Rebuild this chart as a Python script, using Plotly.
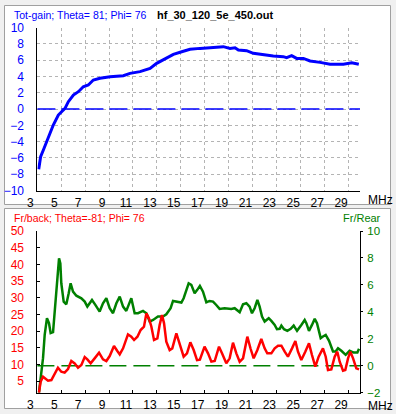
import plotly.graph_objects as go

# ---------------- data ----------------
gain_freq = [3.11, 3.27, 3.5, 3.92, 4.33, 4.75, 5.31, 5.59, 6.01, 6.43, 6.84, 7.26, 7.68, 8.24,
             9.08, 10.19, 10.75, 11.59, 12.43, 12.98, 13.82, 14.38, 15.08, 15.77, 16.61, 17.73,
             18.56, 19.12, 19.54, 19.82, 20.51, 21.07, 21.91, 22.74, 23.58, 23.86, 24.28, 24.7,
             25.26, 25.82, 26.66, 27.49, 28.61, 29.31, 29.9]
gain_db = [-7.4, -5.85, -5.03, -3.39, -1.96, -0.73, 0.09, 0.91, 1.73, 2.14, 2.75, 2.96, 3.57, 3.78,
           3.98, 4.1, 4.39, 4.6, 5.0, 5.62, 6.23, 6.73, 7.05, 7.34, 7.46, 7.59,
           7.67, 7.46, 7.54, 7.26, 7.18, 6.85, 6.64, 6.52, 6.44, 6.32, 6.56, 6.23,
           6.23, 5.91, 5.74, 5.5, 5.5, 5.7, 5.5]

fb_freq = [3.13, 3.27, 3.47, 3.66, 3.89, 4.17, 4.45, 4.72, 5.0, 5.28, 5.56, 5.84, 6.12, 6.4, 6.68,
           6.96, 7.18, 7.46, 7.79, 8.16, 8.49, 8.77, 9.05, 9.41, 9.69, 9.89, 10.17, 10.58, 10.86,
           11.09, 11.37, 11.64, 11.92, 12.12, 12.34, 12.54, 12.76, 13.04, 13.23, 13.43, 13.6,
           13.79, 14.07, 14.29, 14.63, 14.91, 15.24, 15.52, 15.8, 16.08, 16.36, 16.6, 16.99,
           17.28, 17.56, 17.84, 18.2, 18.45, 18.81, 19.09, 19.37, 19.65, 19.93, 20.21, 20.57,
           20.85, 21.1, 21.41, 21.74, 22.02, 22.24, 22.58, 22.86, 23.14, 23.42, 23.7, 23.97,
           24.31, 24.59, 24.81, 25.09, 25.42, 25.73, 25.98, 26.26, 26.54, 26.9, 27.13, 27.32,
           27.6, 27.88, 28.1, 28.3, 28.58, 28.77, 29.0, 29.19, 29.42, 29.69, 29.92]
fb_db = [1.5, 4.8, 6.3, 5.8, 5.1, 5.3, 7.3, 9.0, 7.8, 7.5, 8.6, 11.0, 10.3, 9.0, 9.8,
         12.2, 11.5, 10.3, 11.8, 13.5, 11.5, 11.0, 12.5, 15.5, 14.0, 13.0, 14.8, 19.0, 18.3,
         17.3, 18.3, 20.3, 21.3, 25.3, 23.8, 21.3, 17.3, 17.8, 21.8, 24.8, 22.3,
         16.8, 14.3, 14.8, 19.3, 16.3, 12.3, 13.3, 16.6, 14.3, 11.3, 11.4, 15.3,
         13.3, 10.8, 11.0, 15.3, 13.3, 10.3, 11.8, 16.5, 13.3, 10.8, 11.8, 18.3,
         14.6, 11.8, 14.3, 17.6, 14.8, 13.3, 13.3, 14.8, 15.6, 15.6, 13.8, 12.3,
         14.8, 17.0, 13.8, 11.3, 13.8, 16.3, 12.8, 9.3, 12.3, 14.8, 12.3, 8.3,
         8.5, 12.3, 13.8, 10.8, 8.1, 8.3, 11.8, 13.8, 11.8, 8.8, 8.5]

fr_freq = [3.13, 3.27, 3.47, 3.61, 3.8, 3.97, 4.11, 4.31, 4.45, 4.58, 4.72, 4.81, 4.92, 5.0, 5.2,
           5.42, 5.62, 5.78, 5.98, 6.26, 6.68, 6.96, 7.18, 7.38, 7.57, 7.85, 8.21, 8.49, 8.77,
           9.05, 9.33, 9.61, 9.89, 10.17, 10.44, 10.64, 10.86, 11.14, 11.42, 11.84, 12.12,
           12.4, 12.68, 13.09, 13.51, 13.79, 14.15, 14.35, 14.63, 15.05, 15.24, 15.47, 15.66,
           15.88, 16.16, 16.38, 16.6, 16.86, 17.14, 17.42, 17.7, 17.97, 18.25, 18.67, 19.23,
           19.51, 19.93, 20.21, 20.49, 20.76, 20.96, 21.18, 21.41, 21.6, 21.8, 22.02, 22.36,
           22.58, 22.86, 23.05, 23.28, 23.42, 23.64, 23.92, 24.2, 24.45, 24.73, 25.09, 25.37,
           25.51, 25.73, 25.98, 26.21, 26.4, 26.71, 26.9, 27.13, 27.41, 27.74, 27.96, 28.16,
           28.44, 28.8, 29.13, 29.47, 29.78, 29.92]
fr_db = [-2.0, -0.9, 0.56, 2.29, 3.53, 3.16, 2.42, 2.49, 4.02, 6.0, 7.23, 7.97, 7.6, 6.12, 4.76,
         4.56, 5.38, 6.12, 5.5, 5.2, 5.0, 4.76, 4.39, 4.64, 4.88, 4.52, 4.02, 4.64, 5.01,
         4.27, 3.9, 4.64, 5.13, 4.39, 4.07, 4.52, 5.01, 3.9, 3.9, 4.07, 3.9,
         3.28, 3.4, 3.65, 3.65, 3.82, 4.27, 4.81, 4.76, 4.69, 5.01, 5.63, 6.12,
         6.0, 5.38, 5.63, 5.92, 5.5, 4.71, 4.81, 4.76, 4.51, 4.22, 4.27, 4.22,
         4.27, 3.97, 4.56, 4.64, 4.39, 3.9, 4.27, 4.88, 4.39, 3.65, 3.28, 3.53,
         3.33, 3.03, 2.71, 2.74, 2.98, 2.71, 2.59, 2.74, 2.98, 2.59, 3.03, 3.4,
         3.16, 2.59, 3.03, 3.48, 3.16, 2.05, 2.17, 2.29, 1.85, 1.06, 1.06, 1.3,
         1.11, 0.81, 1.11, 0.98, 0.98, 1.26]

freq_ticks = [3, 5, 7, 9, 11, 13, 15, 17, 19, 21, 23, 25, 27, 29]
gain_ticks = [-10, -8, -6, -4, -2, 0, 2, 4, 6, 8, 10]
fb_ticks = [5, 10, 15, 20, 25, 30, 35, 40, 45, 50]
fr_ticks = [-2, 0, 2, 4, 6, 8, 10]

# ---------------- styling ----------------
W, H = 396, 414
FONT = "Liberation Sans, Arial, sans-serif"
BLUE = "#0000FF"
RED = "#FF0000"
GREEN = "#008000"
GRID = "#b4b4b4"


def px_x(p):
    return p / W


def px_y(p):
    return 1 - p / H


x_dom = [px_x(37.4), px_x(360.0)]

fig = go.Figure()

fig.add_trace(go.Scatter(x=gain_freq, y=gain_db, mode="lines",
                         line=dict(color=BLUE, width=3), xaxis="x", yaxis="y",
                         showlegend=False, hoverinfo="skip"))
fig.add_trace(go.Scatter(x=fr_freq, y=fr_db, mode="lines",
                         line=dict(color=GREEN, width=2.5), xaxis="x2", yaxis="y2",
                         showlegend=False, hoverinfo="skip"))
fig.add_trace(go.Scatter(x=fb_freq, y=fb_db, mode="lines",
                         line=dict(color=RED, width=2.5), xaxis="x2", yaxis="y3",
                         showlegend=False, hoverinfo="skip"))

tickfont = dict(family=FONT, size=12, color="black")

fig.update_layout(
    width=W, height=H,
    margin=dict(l=0, r=0, t=0, b=0, autoexpand=False),
    paper_bgcolor="#f0f0f0",
    plot_bgcolor="white",
    showlegend=False,
    xaxis=dict(domain=x_dom, anchor="y", range=[3, 30], tickvals=freq_ticks,
               ticks="", showgrid=True, gridcolor=GRID, griddash="3px,3px", gridwidth=1,
               showline=True, linecolor="black", linewidth=1, zeroline=False,
               tickfont=tickfont, ticklabelshift=-7, ticklabelstandoff=1),
    yaxis=dict(domain=[px_y(190.5), px_y(27.7)], anchor="x", range=[-10, 10],
               tickvals=gain_ticks, ticks="", showgrid=True, gridcolor=GRID,
               griddash="3px,3px", gridwidth=1, showline=True, linecolor="black",
               linewidth=1, zeroline=False,
               tickfont=dict(family=FONT, size=12, color=BLUE), ticklabelstandoff=10),
    xaxis2=dict(domain=x_dom, anchor="y2", range=[3, 30], tickvals=freq_ticks,
                ticks="inside", ticklen=3, tickcolor="black", showgrid=False,
                showline=True, linecolor="black", linewidth=1, zeroline=False,
                tickfont=tickfont, ticklabelshift=-7, ticklabelstandoff=1),
    yaxis2=dict(domain=[px_y(392.7), px_y(231.0)], anchor="x2", side="right",
                range=[-2, 10], tickvals=fr_ticks, ticks="outside", ticklen=2,
                tickcolor="black", showgrid=False, showline=True, linecolor="black",
                linewidth=1, zeroline=False,
                tickfont=dict(family=FONT, size=11.5, color=GREEN), ticklabelstandoff=2),
    yaxis3=dict(overlaying="y2", anchor="x2", side="left", range=[1.5, 50],
                tickvals=fb_ticks, ticks="inside", ticklen=3, tickcolor="black",
                showgrid=False, showline=True, linecolor="black", linewidth=1,
                zeroline=False, tickfont=dict(family=FONT, size=12, color=RED),
                ticklabelstandoff=10),
)

shapes = [
    # panel backgrounds
    dict(type="rect", xref="paper", yref="paper", x0=px_x(4.5), x1=px_x(390.5),
         y0=px_y(204.5), y1=px_y(5.5), fillcolor="white", line=dict(color="#a0a0a0", width=1),
         layer="below"),
    dict(type="rect", xref="paper", yref="paper", x0=px_x(4.5), x1=px_x(390.5),
         y0=px_y(408.5), y1=px_y(208.5), fillcolor="white", line=dict(color="#a0a0a0", width=1),
         layer="below"),
    # zero reference lines
    dict(type="line", xref="x domain", yref="y", x0=0, x1=1, y0=0, y1=0,
         line=dict(color=BLUE, width=1.5, dash="18px,6px"), layer="above"),
    dict(type="line", xref="x2 domain", yref="y2", x0=0, x1=1, y0=0, y1=0,
         line=dict(color=GREEN, width=1.5, dash="17px,7px"), layer="below"),
]
fig.update_layout(shapes=shapes)


def ann(text, x, y, color, size=12, anchor="left", bold=False):
    return dict(text=("<b>%s</b>" % text) if bold else text, xref="paper", yref="paper",
                x=px_x(x), y=px_y(y), xanchor=anchor, yanchor="middle", showarrow=False,
                font=dict(family=FONT, size=size, color=color))


fig.update_layout(annotations=[
    ann("Tot-gain; Theta= 81; Phi= 76", 12, 14.5, BLUE, 10.5),
    ann("hf_30_120_5e_450.out", 155, 14.5, "black", 11, bold=True),
    ann("MHz", 366, 200, "black", 12),
    ann("Fr/back; Theta=-81; Phi= 76", 12, 218, RED, 10.5),
    ann("Fr/Rear", 383, 218, GREEN, 11, anchor="right"),
    ann("MHz", 366, 406, "black", 12),
])

fig.write_html("out.html",
               config={"displayModeBar": False},
               post_script="document.body.style.margin='0';"
                           "document.body.style.overflow='hidden';")
